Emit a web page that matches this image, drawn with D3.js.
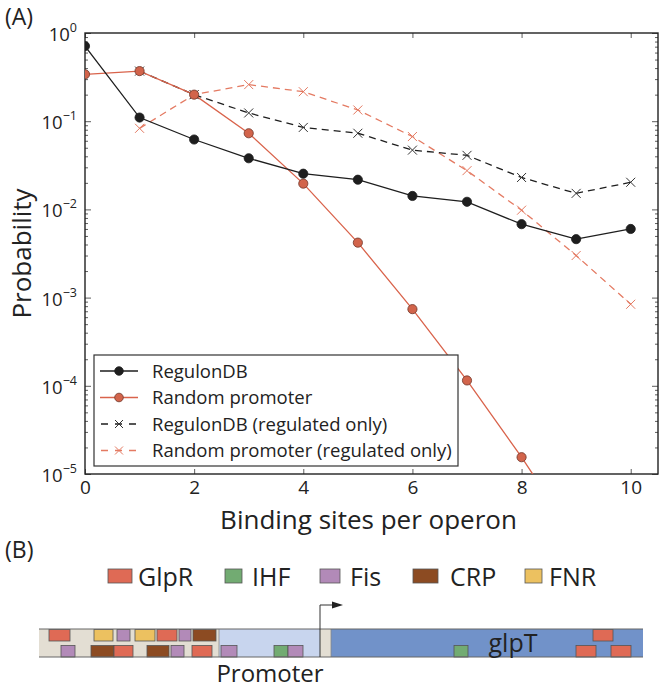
<!DOCTYPE html>
<html><head><meta charset="utf-8">
<script src="https://cdn.jsdelivr.net/npm/d3@7"></script>
<style>
html,body{margin:0;padding:0;background:#fff;}
svg{display:block;font-family:"Open Sans","DejaVu Sans",sans-serif;}
</style></head>
<body>
<svg id="c" width="664" height="689"></svg>
<script>
// ---------- DATA ----------
const sites = [0,1,2,3,4,5,6,7,8,9,10];
const regulonDB = [0.71,0.11,0.062,0.038,0.0254,0.0217,0.0142,0.0122,0.0068,0.0046,0.0060];
const randomPromoter = [0.34,0.37,0.20,0.073,0.0196,0.0042,0.00074,0.000115,0.0000155,0.0000018,0.00000018];
const regulonDBReg = [null,0.37,0.20,0.124,0.085,0.073,0.047,0.041,0.023,0.0152,0.0203];
const randomReg = [null,0.083,0.20,0.26,0.216,0.134,0.067,0.0275,0.0098,0.0030,0.00084];
const seriesNames = ["RegulonDB","Random promoter","RegulonDB (regulated only)","Random promoter (regulated only)"];
const xTicks = [0,2,4,6,8,10];
const yTickExp = [0,-1,-2,-3,-4,-5];

// Panel B data (positions along the operon region)
const factors = ["GlpR","IHF","Fis","CRP","FNR"];
const regions = [
  {name:"upstream", start:0, end:180},
  {name:"promoter", start:180, end:281},
  {name:"spacer", start:281, end:292},
  {name:"gene", start:292, end:604}
];
const tss = 281;
const bindingSites = [
  {f:"GlpR",s:10,e:31,row:0},{f:"FNR",s:55,e:74,row:0},{f:"Fis",s:78,e:91,row:0},
  {f:"FNR",s:96,e:116,row:0},{f:"GlpR",s:118,e:138,row:0},{f:"Fis",s:140,e:152,row:0},
  {f:"CRP",s:154,e:177,row:0},
  {f:"Fis",s:22,e:36,row:1},{f:"CRP",s:52,e:75,row:1},{f:"GlpR",s:75,e:94,row:1},
  {f:"CRP",s:108,e:130,row:1},{f:"Fis",s:132,e:145,row:1},{f:"GlpR",s:153,e:173,row:1},
  {f:"Fis",s:182,e:198,row:1},{f:"IHF",s:235,e:249,row:1},{f:"Fis",s:249,e:264,row:1},
  {f:"IHF",s:415,e:429,row:1},{f:"GlpR",s:554,e:574,row:0},
  {f:"GlpR",s:537,e:557,row:1},{f:"GlpR",s:572,e:592,row:1}
];
const geneName = "glpT";
const promoterLabel = "Promoter";

// ---------- STYLE ----------
const black = "#1e1e1e", red = "#d9634b", redLight = "#e47a62";
const factorColor = {GlpR:"#df6a55",IHF:"#72ab72",Fis:"#b28ab8",CRP:"#8c4b22",FNR:"#ecc160"};
const legendBox = {GlpR:[108,24],IHF:[225,17],Fis:[320,20],CRP:[413,25],FNR:[525,17]};
const legendTextX = {GlpR:138,IHF:252,Fis:350,CRP:450,FNR:549};
const regionColor = {upstream:"#e3ded3",promoter:"#c8d5ee",spacer:"#e3ded3",gene:"#7192c9"};

const svg = d3.select("#c");
const L=85, R=658, T=33, B=474;
const x = d3.scaleLinear().domain([0,10.5]).range([L,R]);
const y = d3.scaleLog().domain([1e-5,1]).range([B,T]);

svg.append("text").attr("x",5).attr("y",25).attr("font-size",23).attr("fill","#222").text("(A)");

svg.append("defs").append("clipPath").attr("id","clip")
  .append("rect").attr("x",L).attr("y",T).attr("width",R-L).attr("height",B-T);

// axes ticks (inward)
const gx = svg.append("g").attr("transform",`translate(0,${B})`)
  .call(d3.axisBottom(x).tickValues(xTicks).tickSize(-5).tickPadding(7).tickFormat(d3.format("d")));
svg.append("g").attr("transform",`translate(0,${T})`)
  .call(d3.axisTop(x).tickValues(xTicks).tickSize(-5).tickFormat(""));
const minor = [];
for (let e=-5;e<0;e++) for (let m=2;m<=9;m++) minor.push(m*Math.pow(10,e));
const majors = yTickExp.map(e=>Math.pow(10,e));
svg.append("g").attr("transform",`translate(${L},0)`)
  .call(d3.axisLeft(y).tickValues(majors).tickSize(-6).tickFormat(""));
svg.append("g").attr("transform",`translate(${L},0)`)
  .call(d3.axisLeft(y).tickValues(minor).tickSize(-3).tickFormat(""));
svg.append("g").attr("transform",`translate(${R},0)`)
  .call(d3.axisRight(y).tickValues(majors).tickSize(-6).tickFormat(""));
svg.append("g").attr("transform",`translate(${R},0)`)
  .call(d3.axisRight(y).tickValues(minor).tickSize(-3).tickFormat(""));
svg.selectAll(".domain").remove();
svg.selectAll(".tick line").attr("stroke","#333").attr("stroke-width",0.8);
gx.selectAll("text").attr("font-size",19).attr("fill","#222").attr("font-family","Open Sans, DejaVu Sans, sans-serif");

// frame
svg.append("rect").attr("x",L).attr("y",T).attr("width",R-L).attr("height",B-T)
  .attr("fill","none").attr("stroke","#222").attr("stroke-width",1.4);

// y tick labels with superscripts
yTickExp.forEach(e=>{
  const t = svg.append("text").attr("x",L-8).attr("y",y(Math.pow(10,e))+8)
    .attr("text-anchor","end").attr("font-size",18.5).attr("fill","#222");
  t.append("tspan").text("10");
  t.append("tspan").attr("dy",-9).attr("font-size",12.5).text(e===0?"0":"\u2212"+(-e));
});

svg.append("text").attr("x",(L+R)/2 - 3).attr("y",529).attr("text-anchor","middle")
  .attr("font-size",26).attr("fill","#222").text("Binding sites per operon");
svg.append("text").attr("transform",`translate(31,${(T+B)/2}) rotate(-90)`).attr("text-anchor","middle")
  .attr("font-size",26).attr("fill","#222").text("Probability");

// series
const plot = svg.append("g").attr("clip-path","url(#clip)");
const series = [
  {vals:regulonDB, color:black, dash:null, marker:"circle", fill:black, stroke:black},
  {vals:randomPromoter, color:red, dash:null, marker:"circle", fill:"#d2644b", stroke:"#6e3528"},
  {vals:regulonDBReg, color:black, dash:"7,5", marker:"x", stroke:"#333"},
  {vals:randomReg, color:redLight, dash:"7,5", marker:"x", stroke:redLight}
];
const line = d3.line().defined(d=>d[1]!=null).x(d=>x(d[0])).y(d=>y(d[1]));
[3,2,1,0].forEach(i=>{
  const s = series[i];
  const pts = sites.map((k,j)=>[k,s.vals[j]]);
  plot.append("path").datum(pts).attr("d",line).attr("fill","none")
    .attr("stroke",s.color).attr("stroke-width",1.3).attr("stroke-dasharray",s.dash);
});
[3,2,1,0].forEach(i=>{
  const s = series[i];
  const pts = sites.map((k,j)=>[k,s.vals[j]]).filter(d=>d[1]!=null);
  if (s.marker==="circle") {
    plot.selectAll(null).data(pts).enter().append("circle")
      .attr("cx",d=>x(d[0])).attr("cy",d=>y(d[1])).attr("r",4.6)
      .attr("fill",s.fill).attr("stroke",s.stroke).attr("stroke-width",0.8);
  } else {
    plot.selectAll(null).data(pts).enter().append("path")
      .attr("d",d=>{const cx=x(d[0]),cy=y(d[1]),r=4.5;return `M${cx-r},${cy-r}L${cx+r},${cy+r}M${cx-r},${cy+r}L${cx+r},${cy-r}`;})
      .attr("stroke",s.stroke).attr("stroke-width",1).attr("fill","none");
  }
});

// legend
const lg = svg.append("g");
lg.append("rect").attr("x",94).attr("y",355).attr("width",364).attr("height",111)
  .attr("fill","#fff").attr("stroke","#333").attr("stroke-width",1.2);
series.forEach((s,i)=>{
  const cy = 371 + i*26.5;
  lg.append("line").attr("x1",100).attr("x2",138).attr("y1",cy).attr("y2",cy)
    .attr("stroke",s.color).attr("stroke-width",1.3).attr("stroke-dasharray",s.dash?"7,7":null)
    .attr("stroke-dashoffset",s.dash?-1:0);
  if (s.marker==="circle") {
    lg.append("circle").attr("cx",119).attr("cy",cy).attr("r",4.3).attr("fill",s.fill).attr("stroke",s.stroke).attr("stroke-width",0.8);
  } else {
    const r=4;
    lg.append("path").attr("d",`M${119-r},${cy-r}L${119+r},${cy+r}M${119-r},${cy+r}L${119+r},${cy-r}`)
      .attr("stroke",s.stroke).attr("stroke-width",1);
  }
  lg.append("text").attr("x",152).attr("y",cy+6.5).attr("font-size",18.5).attr("fill","#222").text(seriesNames[i]);
});

// ---------- Panel B ----------
svg.append("text").attr("x",5).attr("y",558).attr("font-size",23).attr("fill","#222").text("(B)");
factors.forEach(f=>{
  const [lx,w] = legendBox[f];
  svg.append("rect").attr("x",lx).attr("y",569).attr("width",w).attr("height",14)
    .attr("fill",factorColor[f]).attr("stroke","#555").attr("stroke-width",0.8);
  svg.append("text").attr("x",legendTextX[f]).attr("y",586).attr("font-size",25).attr("fill","#222").text(f);
});

const bx = d3.scaleLinear().domain([0,604]).range([39,643]);
const barTop = 629, barBot = 657;
svg.selectAll(null).data(regions).enter().append("rect")
  .attr("x",d=>bx(d.start)).attr("y",barTop).attr("width",d=>bx(d.end)-bx(d.start)).attr("height",barBot-barTop)
  .attr("fill",d=>regionColor[d.name]);
[180,292].forEach(p=>{
  svg.append("line").attr("x1",bx(p)).attr("x2",bx(p)).attr("y1",barTop).attr("y2",barBot)
    .attr("stroke","#888").attr("stroke-width",0.8);
});
svg.selectAll(null).data(bindingSites).enter().append("rect")
  .attr("x",d=>bx(d.s)).attr("y",d=>d.row===0?629.5:645.5)
  .attr("width",d=>bx(d.e)-bx(d.s)).attr("height",11.5)
  .attr("fill",d=>factorColor[d.f]).attr("stroke","#555").attr("stroke-width",0.8);
svg.append("line").attr("x1",bx(0)).attr("x2",bx(604)).attr("y1",barTop).attr("y2",barTop).attr("stroke","#666").attr("stroke-width",1);
svg.append("line").attr("x1",bx(0)).attr("x2",bx(604)).attr("y1",barBot).attr("y2",barBot).attr("stroke","#666").attr("stroke-width",1);

// TSS arrow
const ax = bx(tss);
svg.append("path").attr("d",`M${ax},${barBot}V605H${ax+14}`).attr("fill","none").attr("stroke","#333").attr("stroke-width",1);
svg.append("path").attr("d",`M${ax+23},605L${ax+12},601.5L${ax+12},608.5Z`).attr("fill","#222");

svg.append("text").attr("x",bx(474)).attr("y",652).attr("text-anchor","middle").attr("font-size",25).attr("fill","#222").text(geneName);
svg.append("text").attr("x",270).attr("y",682).attr("text-anchor","middle").attr("font-size",24).attr("fill","#222").text(promoterLabel);
</script>
</body></html>
